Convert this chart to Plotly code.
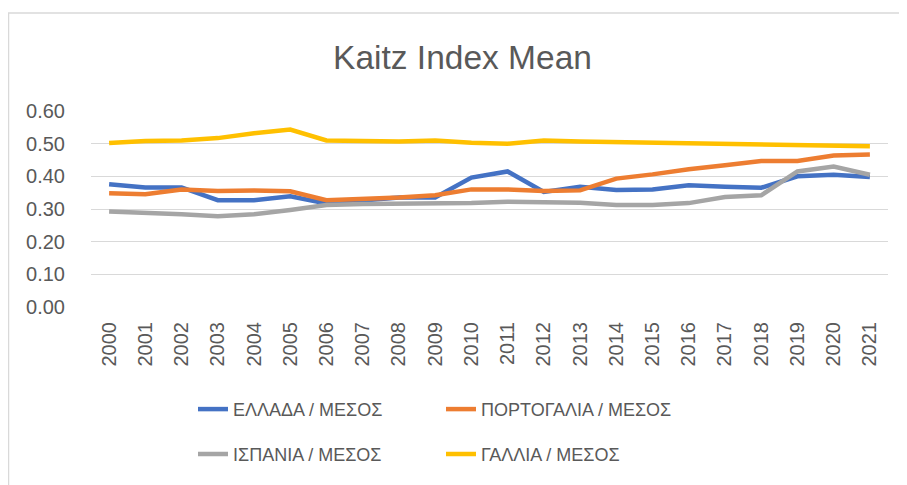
import plotly.graph_objects as go

years = [str(y) for y in range(2000, 2022)]
greece = [0.376, 0.366, 0.366, 0.327, 0.327, 0.339, 0.317, 0.325, 0.335, 0.335, 0.396, 0.415, 0.352, 0.368,
          0.358, 0.360, 0.373, 0.368, 0.365, 0.400, 0.405, 0.398]
portugal = [0.348, 0.345, 0.360, 0.355, 0.357, 0.354, 0.327, 0.330, 0.335, 0.342, 0.360, 0.360, 0.355, 0.357,
            0.393, 0.406, 0.422, 0.434, 0.447, 0.447, 0.464, 0.467]
spain = [0.292, 0.289, 0.284, 0.278, 0.284, 0.297, 0.312, 0.315, 0.315, 0.315, 0.318, 0.322, 0.319, 0.319,
         0.312, 0.312, 0.318, 0.337, 0.342, 0.415, 0.430, 0.405]
france = [0.502, 0.508, 0.510, 0.517, 0.532, 0.543, 0.510, 0.508, 0.507, 0.510, 0.503, 0.500, 0.510, 0.507,
          0.505, 0.503, 0.500, 0.498, 0.497, 0.496, 0.494, 0.492]
names = ["ΕΛΛΑΔΑ / ΜΕΣΟΣ", "ΠΟΡΤΟΓΑΛΙΑ / ΜΕΣΟΣ", "ΙΣΠΑΝΙΑ / ΜΕΣΟΣ", "ΓΑΛΛΙΑ / ΜΕΣΟΣ"]
colors = ["#4472C4", "#ED7D31", "#A5A5A5", "#FFC000"]
series = [greece, portugal, spain, france]
yticks = [0.0, 0.1, 0.2, 0.3, 0.4, 0.5, 0.6]

# page body has an 8px margin; work in reference pixels and shift
OFF = 8
W, H = 907 - OFF, 485 - OFF
plot_left, plot_right, plot_top, plot_bottom = 91, 888, 110.7, 307.3
L = plot_left - OFF
T = plot_top - OFF
R = W - (plot_right - OFF)
B = H - (plot_bottom - OFF)
pw, ph = W - L - R, H - T - B

def px(xr):
    return (xr - OFF - L) / pw

def py(yr):
    return (H - B - (yr - OFF)) / ph

fig = go.Figure()
legend_names = ["legend", "legend2", "legend3", "legend4"]
for s, n, c, lg in zip(series, names, colors, legend_names):
    fig.add_trace(go.Scatter(x=years, y=s, name=n, mode="lines",
                             line=dict(color=c, width=4.5), legend=lg, showlegend=True))

txt = "#595959"
font_family = "Liberation Sans, Arial, sans-serif"
leg_pos = [(193, 410), (441, 410), (193, 455), (441, 455)]
layout_legends = {}
for lg, (lx, ly) in zip(legend_names, leg_pos):
    layout_legends[lg] = dict(x=px(lx), y=py(ly), xanchor="left", yanchor="middle",
                              orientation="h", bgcolor="rgba(0,0,0,0)",
                              font=dict(size=18, color=txt, family=font_family))

fig.update_layout(
    width=W, height=H,
    showlegend=True,
    margin=dict(l=L, r=R, t=T, b=B),
    paper_bgcolor="white", plot_bgcolor="white",
    font=dict(family=font_family, color=txt),
    title=dict(text="Kaitz Index Mean", x=(462.5 - OFF) / W, xref="container", xanchor="center",
               y=1 - (57 - OFF) / H, yref="container", yanchor="middle",
               font=dict(size=33.5, color=txt, family=font_family)),
    xaxis=dict(type="category", tickangle=-90, showgrid=False, showline=False, zeroline=False,
               ticks="", tickfont=dict(size=20, color=txt), ticklabelstandoff=10,
               range=[-0.5, len(years) - 0.5], automargin=False),
    yaxis=dict(range=[0, 0.6], tickvals=yticks, tickformat=".2f", showgrid=True,
               gridcolor="#D9D9D9", gridwidth=1, zeroline=False, showline=False, ticks="",
               tickfont=dict(size=20, color=txt), ticklabelstandoff=25, automargin=False),
    **layout_legends,
)

fig.add_shape(type="rect", xref="paper", yref="paper",
              x0=px(8.5), x1=px(907 + 50), y0=py(485 + 50), y1=py(12.5),
              line=dict(color="#D9D9D9", width=1.5), fillcolor="rgba(0,0,0,0)", layer="below")

fig.write_html("out.html")
